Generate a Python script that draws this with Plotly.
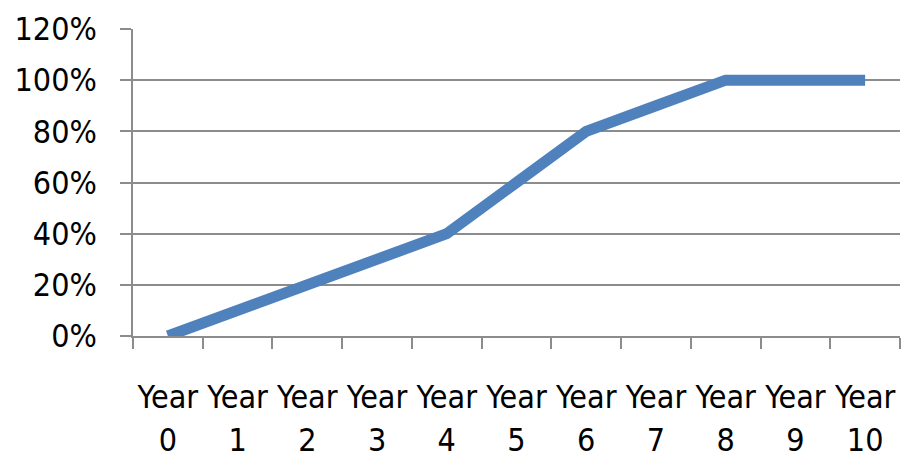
import plotly.graph_objects as go

years = ["Year 0", "Year 1", "Year 2", "Year 3", "Year 4", "Year 5",
         "Year 6", "Year 7", "Year 8", "Year 9", "Year 10"]
values = [0.0, 0.10, 0.20, 0.30, 0.40, 0.60, 0.80, 0.90, 1.00, 1.00, 1.00]
tick_word = ["Year"] * 11
tick_num = ["0", "1", "2", "3", "4", "5", "6", "7", "8", "9", "10"]

FONT = "DejaVu Sans Condensed"
GRID = "#8c8c8c"
FS = 32

fig = go.Figure()
fig.add_trace(go.Scatter(
    x=years, y=values, mode="lines",
    line=dict(color="#4F81BD", width=11),
    xaxis="x", yaxis="y", showlegend=False, hoverinfo="skip",
))
fig.add_trace(go.Scatter(
    x=years, y=values, mode="lines",
    line=dict(color="rgba(0,0,0,0)", width=0),
    xaxis="x2", yaxis="y", showlegend=False, hoverinfo="skip",
))

xr = [-0.5, len(years) - 0.5]

fig.update_layout(
    width=912, height=459,
    margin=dict(l=133, r=12, t=29, b=123, autoexpand=False),
    paper_bgcolor="white", plot_bgcolor="white",
    font=dict(family=FONT, size=FS, color="black"),
    xaxis=dict(
        type="category", categoryorder="array", categoryarray=years,
        range=xr, autorange=False, automargin=False, tickangle=0,
        tickmode="array", tickvals=years, ticktext=tick_word,
        tickson="boundaries", ticks="outside", ticklen=11, tickcolor=GRID,
        tickwidth=1.5,
        showline=True, linecolor=GRID, linewidth=1.5,
        showgrid=False, zeroline=False,
        ticklabelstandoff=32,
        tickfont=dict(family=FONT, size=FS),
    ),
    xaxis2=dict(
        type="category", categoryorder="array", categoryarray=years,
        range=xr, autorange=False, automargin=False, tickangle=0,
        overlaying="x", side="bottom", anchor="y",
        tickmode="array", tickvals=years, ticktext=tick_num,
        ticks="", showline=False, showgrid=False, zeroline=False,
        ticklabelstandoff=82,
        tickfont=dict(family=FONT, size=FS),
    ),
    yaxis=dict(
        range=[0, 1.2], dtick=0.2, tickformat=".0%", automargin=False,
        ticks="outside", ticklen=11, tickcolor=GRID, tickwidth=1.5,
        showline=True, linecolor=GRID, linewidth=1.5,
        showgrid=True, gridcolor=GRID, gridwidth=1.5,
        zeroline=False,
        ticklabelstandoff=17,
        tickfont=dict(family=FONT, size=FS),
    ),
)

fig.write_html("out.html")
